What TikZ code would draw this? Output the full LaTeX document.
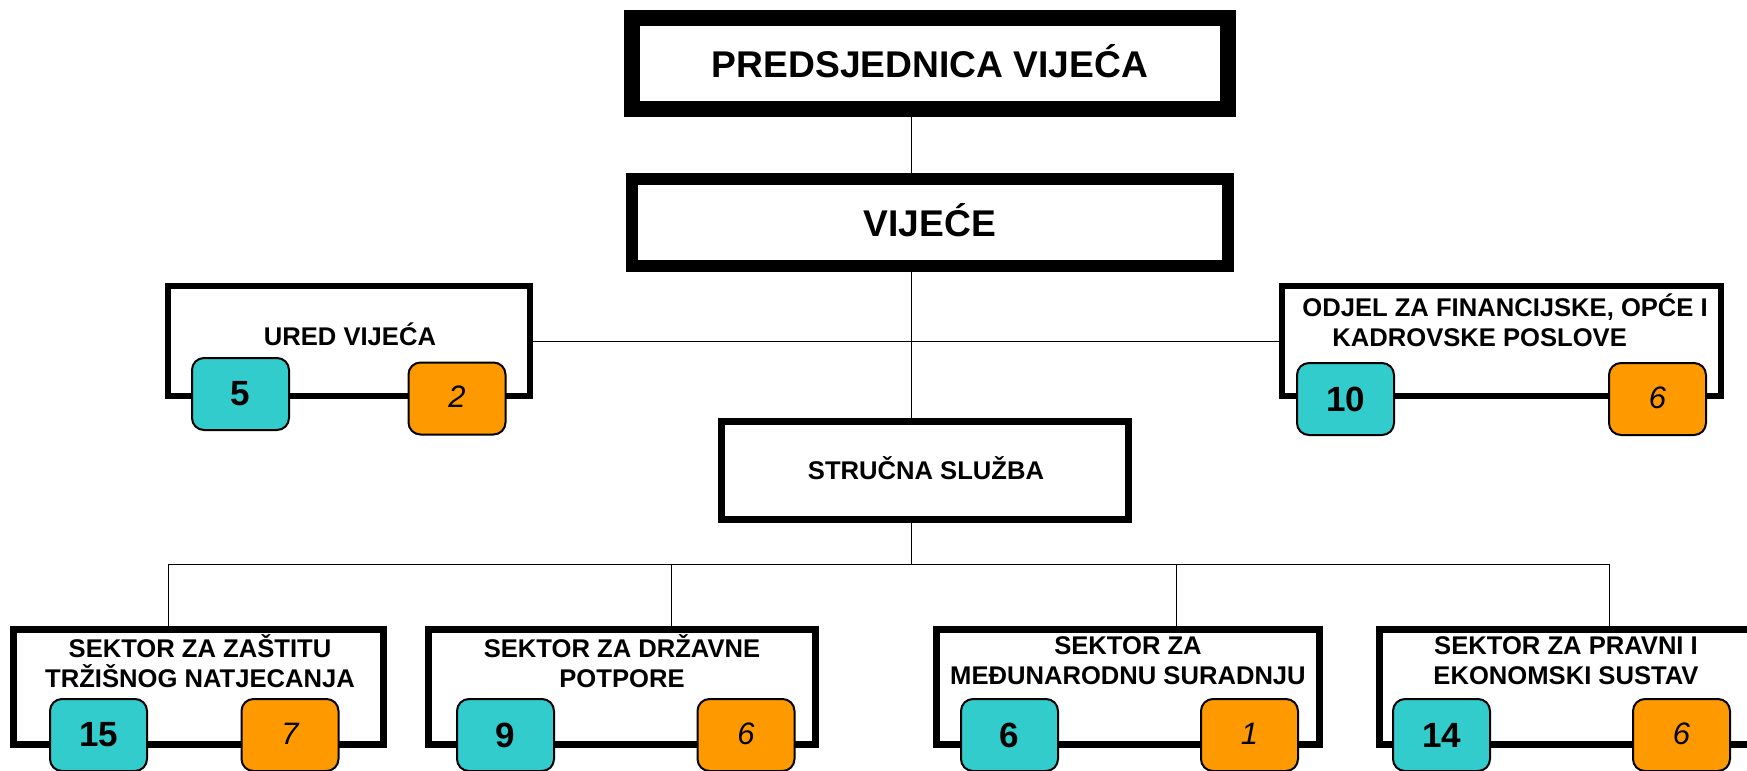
\documentclass[tikz,border=0pt]{standalone}
\usepackage{fontspec}
\setmainfont{Liberation Sans}
\definecolor{cyanbox}{HTML}{33CCCC}
\definecolor{orangebox}{HTML}{FF9900}
\begin{document}
\begin{tikzpicture}[x=0.5pt,y=-0.5pt,
  topbox/.style={draw=black, fill=white, inner sep=0pt},
  toptext/.style={inner sep=0pt, font=\fontsize{18.6}{22}\selectfont\bfseries},
  unitbox/.style={draw=black, fill=white, inner sep=0pt, line width=3.5pt},
  unittext/.style={inner sep=0pt, align=center, font=\fontsize{12.8}{15}\selectfont\bfseries},
  countbox/.style={draw=black, line width=1pt, rounded corners=6pt, minimum width=48.5pt, minimum height=36pt, inner sep=0pt},
  staffbox/.style={countbox, fill=cyanbox, font=\fontsize{17.5}{20}\selectfont\bfseries},
  extbox/.style={countbox, fill=orangebox, font=\fontsize{15.5}{18}\selectfont\itshape},
  conn/.style={draw=black, line width=0.5pt}]
\useasboundingbox (0,0) rectangle (1747,771);

\coordinate (trunk) at (911,0);

% top boxes
\node[topbox, line width=8pt, minimum width=298pt, minimum height=45.5pt] (pred) at (930,63.5) {};
\node[toptext] (predt) at (930,61) {PREDSJEDNICA VIJEĆA};
\node[topbox, line width=6pt, minimum width=298pt, minimum height=43.5pt] (vij) at (930,222.5) {};
\node[toptext] (vijt) at (930,220) {VIJEĆE};

% side offices
\node[unitbox, line width=3pt, minimum width=181pt, minimum height=55pt] (ured) at (349,341) {};
\node[unittext] (uredt) at (350,334) {URED VIJEĆA};
\node[unitbox, line width=3pt, minimum width=219.5pt, minimum height=55pt] (odjel) at (1501.5,341) {};
\node[unittext, align=left, anchor=west] (odjelt) at (1302,320) {ODJEL ZA FINANCIJSKE, OPĆE I\\\hspace*{15pt}KADROVSKE POSLOVE};

\node[staffbox] (ureds) at (240.5,394) {5};
\node[extbox] (urede) at (457,398.5) {\raisebox{1.5pt}{2}};
\node[staffbox] (odjels) at (1345.5,399) {10};
\node[extbox] (odjele) at (1657.5,399) {\raisebox{1.5pt}{6}};

% expert service
\node[unitbox, minimum width=203.5pt, minimum height=49pt] (str) at (925,470.5) {};
\node[unittext] (strt) at (926,468) {STRUČNA SLUŽBA};

% sectors
\node[unitbox, minimum width=185pt, minimum height=57.5pt] (s1) at (198.5,687) {};
\node[unittext] (s1t) at (200,661) {SEKTOR ZA ZAŠTITU\\TRŽIŠNOG NATJECANJA};
\node[unitbox, minimum width=193.5pt, minimum height=57.5pt] (s2) at (622,687) {};
\node[unittext] (s2t) at (622,661) {SEKTOR ZA DRŽAVNE\\POTPORE};
\node[unitbox, minimum width=191.5pt, minimum height=57.5pt] (s3) at (1128,687) {};
\node[unittext] (s3t) at (1128,661) {SEKTOR ZA\\MEĐUNARODNU SURADNJU};
\node[unitbox, minimum width=186.5pt, minimum height=57.5pt] (s4) at (1566,687) {};
\node[unittext] (s4t) at (1566,661) {SEKTOR ZA PRAVNI I\\EKONOMSKI SUSTAV};

\node[staffbox] (s1s) at (98.5,735) {15};
\node[extbox] (s1e) at (290,735) {\raisebox{1.5pt}{7}};
\node[staffbox] (s2s) at (505.5,735) {9};
\node[extbox] (s2e) at (746,735) {\raisebox{1.5pt}{6}};
\node[staffbox] (s3s) at (1009.5,735) {6};
\node[extbox] (s3e) at (1249.5,735) {\raisebox{1.5pt}{1}};
\node[staffbox] (s4s) at (1441.5,735) {14};
\node[extbox] (s4e) at (1681.5,735) {\raisebox{1.5pt}{6}};

% connectors
\coordinate (bus) at (911,564);
\coordinate (d1) at (168,564);
\coordinate (d2) at (671,564);
\coordinate (d3) at (1176,564);
\coordinate (d4) at (1609,564);
\draw[conn] (pred.south -| trunk) -- (vij.north -| trunk);
\draw[conn] (vij.south -| trunk) -- (str.north -| trunk);
\draw[conn] (ured.east) -- (odjel.west);
\draw[conn] (str.south -| trunk) -- (bus);
\draw[conn] (d1) -- (d4);
\draw[conn] (d1) -- (d1 |- s1.north);
\draw[conn] (d2) -- (d2 |- s2.north);
\draw[conn] (d3) -- (d3 |- s3.north);
\draw[conn] (d4) -- (d4 |- s4.north);
\end{tikzpicture}
\end{document}
